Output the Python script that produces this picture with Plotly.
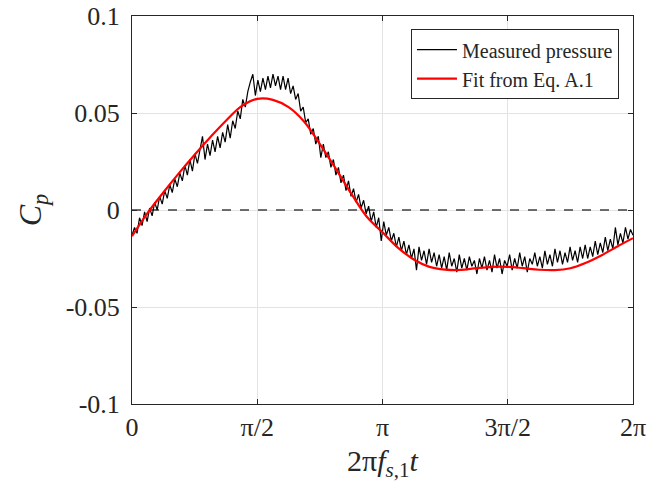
import numpy as np
import plotly.graph_objects as go

# Fit curve values, at t = k*pi/16, k = 0..32
fit_t_steps = list(range(33))
fit_values = [-0.0135, -0.0015, 0.0090, 0.0190, 0.0285, 0.0375, 0.0460, 0.0535,
              0.0573, 0.0568, 0.0530, 0.0455, 0.0340, 0.0215, 0.0085, -0.0035,
              -0.0115, -0.0195, -0.0255, -0.0293, -0.0307, -0.0309, -0.0300, -0.0293,
              -0.0293, -0.0300, -0.0308, -0.0310, -0.0300, -0.0272, -0.0233, -0.0188, -0.0145]

# Measured pressure, 200 samples over one period
measured = [
    -0.013, -0.009, -0.012, -0.004, -0.008, -0.001, -0.006, 0.001, -0.003, 0.004,
    0.000, 0.007, 0.003, 0.010, 0.006, 0.013, 0.009, 0.016, 0.012, 0.019,
    0.015, 0.023, 0.018, 0.026, 0.020, 0.029, 0.024, 0.031, 0.038, 0.026,
    0.034, 0.028, 0.036, 0.030, 0.038, 0.032, 0.040, 0.035, 0.044, 0.037,
    0.046, 0.042, 0.051, 0.047, 0.057, 0.053, 0.061, 0.066, 0.070, 0.059,
    0.067, 0.061, 0.068, 0.062, 0.069, 0.063, 0.070, 0.064, 0.069, 0.062,
    0.069, 0.062, 0.068, 0.060, 0.064, 0.057, 0.060, 0.051, 0.053, 0.045,
    0.047, 0.039, 0.042, 0.034, 0.038, 0.027, 0.034, 0.027, 0.030, 0.022,
    0.026, 0.018, 0.022, 0.014, 0.018, 0.010, 0.015, 0.007, 0.011, 0.004,
    0.008, 0.001, 0.005, -0.002, 0.002, -0.006, -0.001, -0.009, -0.004, -0.016,
    -0.006, -0.013, -0.009, -0.016, -0.012, -0.019, -0.014, -0.021, -0.016, -0.023,
    -0.018, -0.025, -0.020, -0.031, -0.019, -0.026, -0.021, -0.028, -0.020, -0.027,
    -0.022, -0.029, -0.023, -0.030, -0.024, -0.031, -0.022, -0.029, -0.025, -0.032,
    -0.023, -0.030, -0.025, -0.031, -0.024, -0.029, -0.026, -0.033, -0.025, -0.030,
    -0.024, -0.031, -0.026, -0.032, -0.023, -0.030, -0.025, -0.033, -0.026, -0.029,
    -0.023, -0.031, -0.025, -0.030, -0.022, -0.029, -0.024, -0.032, -0.025, -0.028,
    -0.022, -0.029, -0.024, -0.030, -0.021, -0.028, -0.023, -0.029, -0.020, -0.027,
    -0.021, -0.028, -0.022, -0.027, -0.019, -0.026, -0.021, -0.027, -0.019, -0.025,
    -0.018, -0.025, -0.019, -0.024, -0.016, -0.023, -0.017, -0.022, -0.014, -0.021,
    -0.015, -0.020, -0.009, -0.018, -0.012, -0.017, -0.009, -0.015, -0.010, -0.013,
]

tick_values = [0, np.pi / 2, np.pi, 3 * np.pi / 2, 2 * np.pi]
tick_labels = ["0", "π/2", "π", "3π/2", "2π"]
y_ticks = [-0.1, -0.05, 0, 0.05, 0.1]
y_tick_labels = ["-0.1", "-0.05", "0", "0.05", "0.1"]

t_meas = np.linspace(0, 2 * np.pi, len(measured))
t_fit = np.array(fit_t_steps) * np.pi / 16

FONT = "Liberation Serif, Times New Roman, serif"
TXT = "#262626"

fig = go.Figure()
fig.add_trace(go.Scatter(x=[0, 2 * np.pi], y=[0, 0], mode="lines",
                         line=dict(color="#404040", width=1.5, dash="dash"),
                         showlegend=False, hoverinfo="skip"))
fig.add_trace(go.Scatter(x=t_meas, y=measured, mode="lines",
                         line=dict(color="black", width=1.2),
                         name="Measured pressure"))
fig.add_trace(go.Scatter(x=t_fit, y=fit_values, mode="lines",
                         line=dict(color="#ff0000", width=2.2, shape="spline"),
                         name="Fit from Eq. A.1"))

axis_common = dict(showline=True, linecolor="#262626", linewidth=1, mirror="ticks",
                   ticks="inside", ticklen=5, tickcolor="#262626", automargin=False,
                   ticklabeloverflow="allow",
                   showgrid=True, gridcolor="#e3e3e3", gridwidth=1, zeroline=False,
                   tickfont=dict(family=FONT, size=26, color=TXT))

fig.update_layout(
    width=664, height=489,
    margin=dict(l=124, r=39, t=8, b=93),
    paper_bgcolor="white", plot_bgcolor="white",
    font=dict(family=FONT, color=TXT),
    xaxis=dict(range=[0, 2 * np.pi], tickmode="array", tickvals=tick_values,
               ticktext=tick_labels, ticklabelstandoff=0,
               title=dict(text="2π<i>f</i><sub><i>s</i>,1</sub><i>t</i>",
                          font=dict(family=FONT, size=30, color=TXT), standoff=8),
               **axis_common),
    yaxis=dict(range=[-0.1, 0.1], tickmode="array", tickvals=y_ticks,
               ticktext=y_tick_labels, ticklabelstandoff=6,
               title=dict(text="<i>C</i><sub><i>p</i></sub>",
                          font=dict(family=FONT, size=32, color=TXT), standoff=14),
               **axis_common),
    legend=dict(x=0.972, y=0.966, xanchor="right", yanchor="top",
                bgcolor="white", bordercolor="#262626", borderwidth=1,
                font=dict(family=FONT, size=20, color=TXT),
                tracegroupgap=0, itemwidth=40),
    showlegend=True,
)

fig.write_html("out.html")
